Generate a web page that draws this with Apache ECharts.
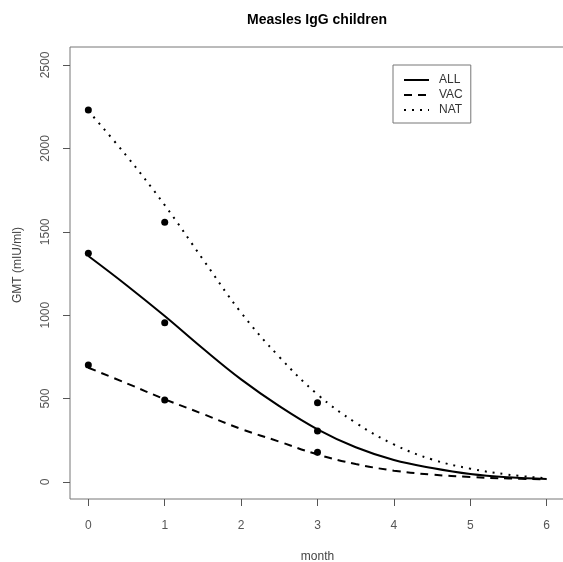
<!DOCTYPE html>
<html>
<head>
<meta charset="utf-8">
<script src="https://cdn.jsdelivr.net/npm/echarts@6/dist/echarts.min.js"></script>
<style>
  html, body { margin: 0; padding: 0; background: #fff; }
  #chart { width: 563px; height: 562px; }
</style>
</head>
<body>
<div id="chart"></div>
<script>
// fitted curves, every half month
const months = [0, 0.5, 1, 1.5, 2, 2.5, 3, 3.5, 4, 4.5, 5, 5.5, 6];
const allFit = [1355, 1180, 995, 800, 615, 455, 316, 208, 132, 84, 48, 28, 18];
const vacFit = [685, 592, 496, 408, 318, 242, 165, 108, 68, 44, 30, 21, 16];
const natFit = [2225, 1955, 1660, 1335, 1015, 750, 525, 355, 225, 135, 80, 44, 22];

// observed GMT values
const obsMonths = [0, 1, 3];
const allObs = [1371, 955, 306];
const vacObs = [701, 492, 178];
const natObs = [2230, 1557, 475];

const xTicks = [0, 1, 2, 3, 4, 5, 6];
const yTicks = [0, 500, 1000, 1500, 2000, 2500];

const pairs = (xs, ys) => xs.map((x, i) => [x, ys[i]]);

const font = 'Liberation Sans, Arial, sans-serif';
const grey = '#555';

const myChart = echarts.init(document.getElementById('chart'));

function fitLine(name, data, type) {
  return {
    name: name,
    type: 'line',
    data: pairs(months, data),
    smooth: 0.4,
    symbol: 'none',
    lineStyle: { color: '#000', width: 2, type: type },
    itemStyle: { color: '#000' },
    z: 3
  };
}
function obsPoints(name, data) {
  return {
    name: name,
    type: 'scatter',
    data: pairs(obsMonths, data),
    symbol: 'circle',
    symbolSize: 7,
    itemStyle: { color: '#000', opacity: 1 },
    z: 4
  };
}

myChart.setOption({
  animation: false,
  backgroundColor: '#fff',
  title: {
    text: 'Measles IgG children',
    left: 312,
    textAlign: 'center',
    top: 8,
    textStyle: { fontFamily: font, fontSize: 14, fontWeight: 'bold', color: '#000' }
  },
  grid: {
    left: 70, right: -2, top: 47, bottom: 63,
    outerBoundsMode: 'none',
    containLabel: false,
    show: true, borderColor: '#777', borderWidth: 1
  },
  legend: {
    data: ['ALL', 'VAC', 'NAT'],
    orient: 'vertical',
    left: 393, top: 65,
    padding: [9, 8, 7, 10],
    itemWidth: 25, itemHeight: 10, itemGap: 3,
    borderColor: '#777', borderWidth: 1,
    itemStyle: { color: 'transparent', borderWidth: 0 },
    textStyle: { fontFamily: font, fontSize: 12, color: '#333', padding: [0, 0, 0, 5] }
  },
  xAxis: {
    type: 'value',
    min: -0.24, max: 6.24,
    name: 'month',
    nameLocation: 'middle',
    nameGap: 52,
    nameTextStyle: { fontFamily: font, fontSize: 12, color: '#444' },
    axisLine: { show: false, onZero: false },
    splitLine: { show: false },
    axisTick: { show: true, length: 7, customValues: xTicks, lineStyle: { color: grey } },
    axisLabel: { customValues: xTicks, margin: 21, fontFamily: font, fontSize: 12, color: grey }
  },
  yAxis: {
    type: 'value',
    min: -102, max: 2608,
    name: 'GMT (mIU/ml)',
    nameLocation: 'middle',
    nameGap: 46,
    nameTextStyle: { fontFamily: font, fontSize: 12, color: '#444', padding: [0, 0, 0, 16] },
    axisLine: { show: false, onZero: false },
    splitLine: { show: false },
    axisTick: { show: true, length: 7, customValues: yTicks, lineStyle: { color: grey } },
    axisLabel: {
      customValues: yTicks, rotate: 90, margin: 18,
      formatter: v => String(v),
      fontFamily: font, fontSize: 12, color: grey
    }
  },
  series: [
    fitLine('ALL', allFit, 'solid'),
    fitLine('VAC', vacFit, [8, 6]),
    fitLine('NAT', natFit, [2, 6]),
    obsPoints('ALL obs', allObs),
    obsPoints('VAC obs', vacObs),
    obsPoints('NAT obs', natObs)
  ]
});
</script>
</body>
</html>
